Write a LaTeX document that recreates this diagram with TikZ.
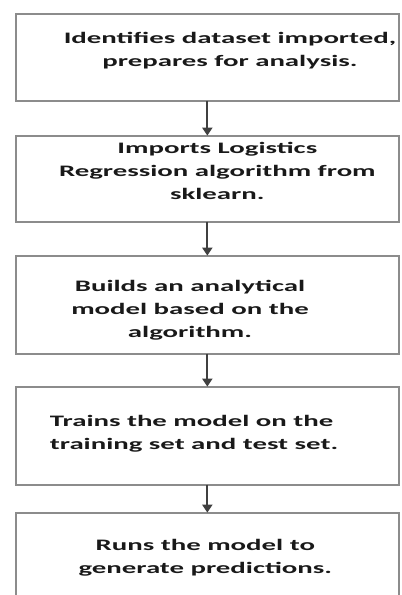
\documentclass[tikz,border=0pt]{standalone}
\usepackage{fontspec}
\newfontfamily\stepfont{Carlito}[FakeStretch=1.8]
\usetikzlibrary{positioning, arrows.meta}

\begin{document}
\begin{tikzpicture}[
  stepbox/.style={
    rectangle, draw=black!45, line width=1.5pt,
    minimum width=287pt, inner sep=0pt, outer sep=0pt
  },
  steptext/.style={
    anchor=north, align=center, text=black!90, inner sep=0pt,
    font=\stepfont\bfseries\fontsize{12pt}{17.3pt}\selectfont
  },
  arr/.style={
    -{Triangle[length=6pt, width=7.5pt]}, line width=1.4pt, color=black!75
  }
]
\useasboundingbox (0,0) rectangle (300.75pt,-446.25pt);

% ================= Boxes =================
\node[stepbox, minimum height=65pt, anchor=north west] (identify) at (12pt,-10.5pt) {};
\node[stepbox, minimum height=64.5pt, below=26.25pt of identify] (imports) {};
\node[stepbox, minimum height=73.5pt, below=25.5pt of imports] (build) {};
\node[stepbox, minimum height=73.5pt, below=24.75pt of build] (train) {};
\node[stepbox, minimum height=80pt, below=21pt of train] (run) {};

% ================= Texts =================
\node[steptext] (identifytxt) at ([xshift=17pt, yshift=-13.5pt]identify.north) {Identifies dataset imported,\\ prepares for analysis.};
\node[steptext] (importstxt) at ([xshift=7.5pt, yshift=-5pt]imports.north) {Imports Logistics\\ Regression algorithm from\\ sklearn.};
\node[steptext] (buildtxt) at ([xshift=-13pt, yshift=-18pt]build.north) {Builds an analytical\\ model based on the\\ algorithm.};
\node[steptext, align=left] (traintxt) at ([xshift=-10pt, yshift=-21pt]train.north) {Trains the model on the\\ training set and test set.};
\node[steptext] (runtxt) at ([xshift=-1.5pt, yshift=-20pt]run.north) {Runs the model to\\ generate predictions.};

% ================= Connections =================
\draw[arr] (identify) -- (imports);
\draw[arr] (imports) -- (build);
\draw[arr] (build) -- (train);
\draw[arr] (train) -- (run);

\end{tikzpicture}
\end{document}
